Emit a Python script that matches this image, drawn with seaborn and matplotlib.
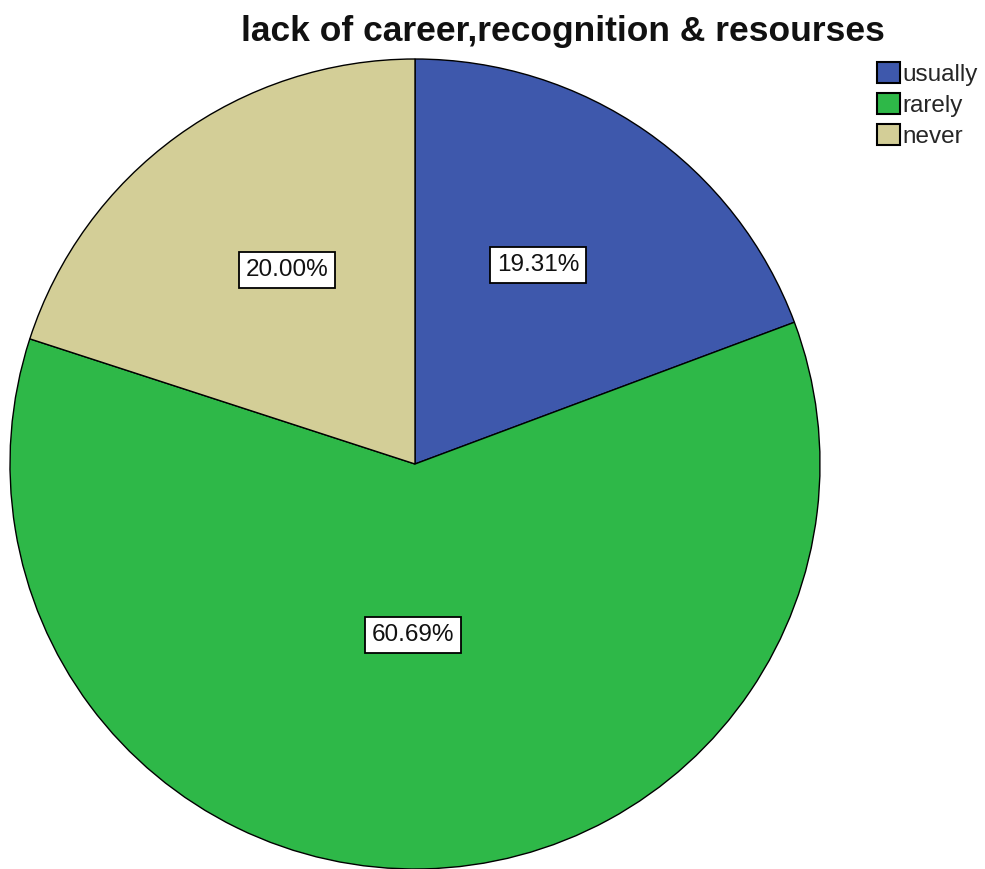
import numpy as np
import matplotlib
matplotlib.use("Agg")
import matplotlib.pyplot as plt
import seaborn as sns

# Response categories and their shares (%)
categories = ["usually", "rarely", "never"]
shares = [19.31, 60.69, 20.00]
colors = ["#3E58AC", "#2EB848", "#D3CE97"]
title = "lack of career,recognition & resourses"

sns.set_theme(style="white")
plt.rcParams["font.family"] = ["Liberation Sans", "DejaVu Sans"]
palette = sns.color_palette(colors)

fig = plt.figure(figsize=(9.85, 8.69), dpi=100)
W, H = 985, 869
cx, cy, r = 415, 464, 405
ax = fig.add_axes([(cx - r) / W, (H - cy - r) / H, 2 * r / W, 2 * r / H])

wedges, _ = ax.pie(
    shares,
    colors=palette,
    startangle=90,
    counterclock=False,
    radius=1.0,
    wedgeprops=dict(edgecolor="black", linewidth=1.0),
)
ax.set_xlim(-1, 1)
ax.set_ylim(-1, 1)
ax.set_aspect("equal")
ax.axis("off")

# percentage labels in white boxes, placed near each wedge's mid-angle
label_radius = [0.578, 0.422, 0.574]
label_shift = [3.0, -1.9, -2.6]  # degrees off the mid-angle
for w, s, lr, sh in zip(wedges, shares, label_radius, label_shift):
    mid = np.deg2rad((w.theta1 + w.theta2) / 2 + sh)
    ax.text(lr * np.cos(mid), lr * np.sin(mid), f"{s:.2f}%",
            ha="center", va="center", fontsize=17.5, color="#111111",
            bbox=dict(boxstyle="square,pad=0.28", facecolor="white",
                      edgecolor="black", linewidth=1.3))

fig.text(563 / W, 1 - 31 / H, title, ha="center", va="center",
         fontsize=25.5, fontweight="bold", color="#111111")

leg = fig.legend(wedges, categories, loc="upper left",
                 bbox_to_anchor=(872 / W, 1 - 57 / H), frameon=False,
                 fontsize=17.5, handlelength=0.95, handleheight=0.95,
                 handletextpad=0.12, labelspacing=0.3, borderpad=0.2,
                 borderaxespad=0)
for h in leg.legend_handles:
    h.set_edgecolor("black")
    h.set_linewidth(1.5)

fig.savefig("out.png", dpi=100)
